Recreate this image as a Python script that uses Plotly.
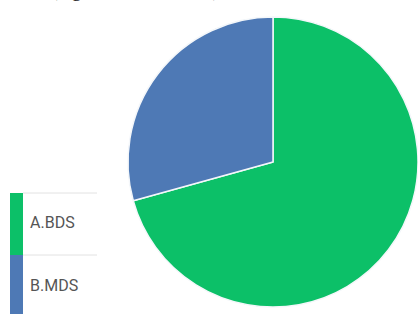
import plotly.graph_objects as go

labels = ["A.BDS", "B.MDS"]
values = [70.7, 29.3]
colors = ["#0CC068", "#4E79B5"]
title_text = "(e.g. BDS and MDS)"

W, H = 418, 314

fig = go.Figure()
fig.add_trace(go.Pie(
    labels=labels, values=values, sort=False, direction="clockwise", rotation=0,
    marker=dict(colors=colors, line=dict(color="#F4F7FA", width=1.5)),
    textinfo="none", hoverinfo="label+percent", showlegend=False,
    domain=dict(x=[128 / W, 1.0], y=[6 / H, 298 / H]),
))

def px(x):
    return x / W

def py(y):
    return 1 - y / H

shapes = []
annotations = []
row_tops = [193, 255]
row_h = 62
for i, (lab, col) in enumerate(zip(labels, colors)):
    top = row_tops[i]
    shapes.append(dict(type="rect", xref="paper", yref="paper",
                       x0=px(10), x1=px(23), y0=py(top + row_h), y1=py(top),
                       fillcolor=col, line=dict(width=0)))
    shapes.append(dict(type="line", xref="paper", yref="paper",
                       x0=px(23), x1=px(97), y0=py(top), y1=py(top),
                       line=dict(color="#E2E2E2", width=1)))
    annotations.append(dict(text=lab, xref="paper", yref="paper",
                            x=px(28), y=py(top + 30), xanchor="left", yanchor="middle",
                            showarrow=False,
                            font=dict(family="Roboto", size=16, color="#555555")))

annotations.append(dict(text=title_text, xref="paper", yref="paper",
                        x=px(49), y=py(2.5), xanchor="left", yanchor="bottom",
                        showarrow=False,
                        font=dict(family="Liberation Serif", size=20, color="#222222")))

fig.update_layout(width=W, height=H, margin=dict(l=0, r=0, t=0, b=0),
                  paper_bgcolor="white", plot_bgcolor="white",
                  shapes=shapes, annotations=annotations)

fig.write_html("out.html", config={"displayModeBar": False},
               post_script="document.body.style.margin='0';document.body.style.overflow='hidden';")
